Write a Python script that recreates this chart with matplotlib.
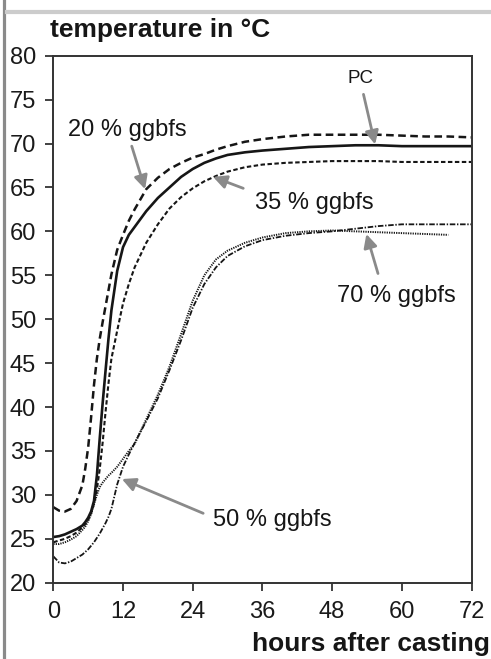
import matplotlib
matplotlib.use("Agg")
import matplotlib.pyplot as plt
from matplotlib.lines import Line2D

# === DATA ===
hours = [0, 1, 2, 3, 4, 5, 5.5, 6, 6.5, 7, 7.5, 8, 8.5, 9, 9.5, 10, 11, 12, 13, 14,
         16, 18, 20, 22, 24, 26, 28, 30, 33, 36, 40, 44, 48, 52, 56, 60, 64, 68, 72]

temp_pc = [25.2, 25.3, 25.5, 25.8, 26.1, 26.5, 26.9, 27.4, 28.1, 29.3, 32.2, 36.5,
           40.5, 44.2, 47.8, 51.0, 55.5, 58.2, 59.6, 60.5, 62.3, 63.8, 65.0, 66.2,
           67.1, 67.8, 68.3, 68.7, 69.0, 69.2, 69.4, 69.6, 69.7, 69.8, 69.8, 69.7,
           69.7, 69.7, 69.7]
temp_20 = [28.6, 28.2, 28.1, 28.4, 29.3, 31.1, 33.0, 35.4, 38.8, 42.5, 45.5, 47.8,
           49.7, 51.5, 53.3, 55.1, 57.9, 59.6, 61.2, 62.5, 64.8, 66.1, 67.1, 67.8,
           68.4, 68.8, 69.3, 69.7, 70.2, 70.5, 70.8, 71.0, 71.0, 71.0, 71.0, 70.9,
           70.8, 70.8, 70.7]
temp_35 = [24.6, 24.8, 25.0, 25.3, 25.7, 26.3, 26.7, 27.2, 27.9, 29.0, 30.6, 33.0,
           36.0, 39.5, 42.7, 45.5, 48.7, 51.8, 54.0, 55.9, 58.7, 60.8, 62.6, 63.9,
           64.9, 65.7, 66.3, 66.8, 67.3, 67.6, 67.8, 67.9, 68.0, 68.0, 68.0, 67.9,
           67.9, 67.9, 67.9]
temp_50 = [23.0, 22.3, 22.2, 22.4, 22.8, 23.2, 23.5, 23.8, 24.2, 24.6, 25.1, 25.6,
           26.2, 26.8, 27.5, 28.4, 31.2, 33.2, 34.6, 35.9, 38.4, 41.0, 44.2, 47.6,
           51.3, 54.0, 55.9, 57.2, 58.3, 59.0, 59.5, 59.8, 60.0, 60.3, 60.6, 60.8,
           60.8, 60.8, 60.8]
# 70 % series stops at 68 h
hours_70 = hours[:-1]
temp_70 = [24.4, 24.4, 24.6, 24.9, 25.3, 26.0, 26.4, 27.0, 27.8, 28.9, 30.0, 30.9,
           31.4, 31.8, 32.2, 32.5, 33.2, 34.1, 35.0, 35.8, 38.6, 41.4, 44.6, 48.3,
           52.1, 55.0, 56.8, 57.8, 58.7, 59.3, 59.8, 60.0, 60.1, 60.0, 59.9, 59.8,
           59.7, 59.6]

# === STYLE ===
plt.rcParams.update({
    'font.family': ['Liberation Sans', 'DejaVu Sans'],
    'font.size': 17,
    'lines.scale_dashes': False,
    'axes.edgecolor': '#333333',
    'axes.linewidth': 1.4,
    'xtick.color': '#333333',
    'ytick.color': '#333333',
    'xtick.labelcolor': '#1a1a1a',
    'ytick.labelcolor': '#1a1a1a',
})

fig = plt.figure(figsize=(4.91, 6.59), dpi=100)
fig.patch.set_facecolor('white')
ax = fig.add_axes([0.1086, 0.1158, 0.8517, 0.7997])

ink = '#161616'
ax.plot(hours, temp_20, color=ink, lw=1.8, dashes=(5.5, 3.2))
ax.plot(hours, temp_pc, color=ink, lw=1.9)
ax.plot(hours, temp_35, color=ink, lw=1.5, dashes=(3.2, 1.8))
ax.plot(hours, temp_50, color=ink, lw=1.3, dashes=(4.0, 1.2, 1.0, 1.2))
ax.plot(hours_70, temp_70, color=ink, lw=1.4, dashes=(0.9, 0.8))

ax.set_xlim(0, 72)
ax.set_ylim(20, 80)
ax.set_xticks(range(0, 73, 12))
ax.set_yticks(range(20, 81, 5))
ax.tick_params(axis='both', direction='out', length=5.5, width=1.3, labelsize=17)
ax.tick_params(axis='y', pad=7)
ax.tick_params(axis='x', pad=7.5)

# === LABELS WITH ARROWS ===
arrow_kw = dict(arrowstyle='-|>', color='#8a8a8a', lw=2.0, mutation_scale=20,
                shrinkA=0, shrinkB=0)
ax.text(50.7, 76.9, 'PC', fontsize=13.5, ha='left', va='baseline', color=ink)
ax.annotate('', xy=(55.4, 69.9), xytext=(53.4, 75.6), arrowprops=arrow_kw)

ax.text(2.5, 70.9, '20 % ggbfs', ha='left', va='baseline', color=ink)
ax.annotate('', xy=(15.8, 64.8), xytext=(13.5, 69.7), arrowprops=arrow_kw)

ax.text(34.7, 62.5, '35 % ggbfs', ha='left', va='baseline', color=ink)
ax.annotate('', xy=(27.5, 66.2), xytext=(32.7, 64.9), arrowprops=arrow_kw)

ax.text(48.8, 52.0, '70 % ggbfs', ha='left', va='baseline', color=ink)
ax.annotate('', xy=(53.9, 59.7), xytext=(55.9, 55.2), arrowprops=arrow_kw)

ax.text(27.5, 26.4, '50 % ggbfs', ha='left', va='baseline', color=ink)
ax.annotate('', xy=(11.8, 31.8), xytext=(25.8, 27.9), arrowprops=arrow_kw)

# axis titles
fig.text(0.102, 1 - 37.5 / 659, 'temperature in °C', fontsize=19, fontweight='bold',
         ha='left', va='baseline', color=ink)
fig.text(489.5 / 491, 7.5 / 659, 'hours after casting', fontsize=19, fontweight='bold',
         ha='right', va='baseline', color=ink)

# window border lines
fig.add_artist(Line2D([4 / 491, 4 / 491], [0, 1], color='#8a8a8a', lw=2.3,
                      transform=fig.transFigure))
fig.add_artist(Line2D([7 / 491, 1], [1 - 12 / 659, 1 - 12 / 659], color='#cccccc',
                      lw=3, transform=fig.transFigure))

fig.savefig('out.png', dpi=100)
